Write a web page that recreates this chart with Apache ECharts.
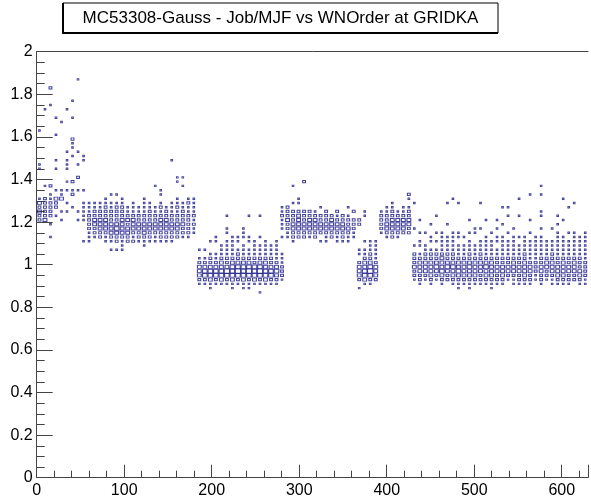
<!DOCTYPE html>
<html><head><meta charset="utf-8">
<script src="https://cdn.jsdelivr.net/npm/echarts@6/dist/echarts.min.js"></script>
<style>html,body{margin:0;padding:0;background:#fff}#c{width:591px;height:500px}</style>
</head><body><div id="c"></div>
<script>
const titleText = 'MC53308-Gauss - Job/MJF vs WNOrder at GRIDKA';
const xBinWidth = 6.3;   // x bin width (WNOrder)
const yBinWidth = 0.02;  // y bin width (Job/MJF)
// lowest y-bin index of each x-bin column
const colStart = [60,60,59,61,60,62,63,60,60,55, 55,56,55,53,53,53,55,55,55,54, 55,55,55,55,55,56,56,56,57,45,
  45,44,45,45,45,44,45,44,44,45, 43,45,45,45,46,56,55,56,56,56, 56,55,55,56,55,55,55,56,44,45,
  45,46,57,56,56,56,57,57,46,45, 46,45,46,45,46,45,44,45,44,45, 45,45,44,45,45,46,45,45,45,45,
  46,45,46,45,45,45,45,46,45,45];
// box contents (0-5) of each column, from colStart upward
const colCounts = ["223231","322222","1022221102","1022301","10100311","10100101","1002102","10100001002","11111001","1112222111",
  "0122332211","223332211","11233322211","10123332221101","10223432222101","1112333322211","223323211","2123332111","122332211","112333221111",
  "1223322211","1123322110","1223332121011","122333221","1223322111","2233221211","122322211","1222221121","112121111","123332101",
  "124432101","113443221001","124432110011","1344332111","12453221111011001","1134443211111","124543221011","113444321110111","112454321101100001","13444221111",
  "1012454321110100001","13443321111","1244322111","12343211111","122211100010111211","11223222","12233222","2233332011","2233222","1233322",
  "2233321","102332201","11233222","223332","11233212","1223322","112322101","1122202","1023332011","13443321101",
  "12454322111","2333211111","122221","12332211","223332211","1233321","2333211","2233221012","1223222010001","1223332101101001",
  "123332211001","123333221011001","1234322101010001","1234333211111","22343221111001","1233432211111","11234332111011","123333211101","11233432211101001","12333321110011",
  "12233322111001","1233432111110001","11233332111101","1223322110110101","1233322111110010001","123322111101000101","11233321111101","12233221110100001","123333221111","1223321111101001",
  "11222111111","122332211111010011","1223321111","11233322111001","12333221111110101","1233332111110001","1223322111101000001","223332111111","123322211111","1122221111111"];
// isolated cells [x-bin, y-bin, content]
const scatterCells = [[0,72,1],[0,73,1],[0,81,1],[1,68,1],[1,86,1],[2,56,1],[2,87,1],[2,91,2],
  [3,72,1],[3,74,1],[3,80,1],[3,84,1],[4,83,1],[5,72,1],[5,73,1],[5,74,1],[5,76,1],[5,86,1],
  [6,75,1],[6,77,1],[6,78,1],[6,79,2],[6,84,1],[6,88,1],[7,73,1],[7,76,1],[7,93,1],
  [8,55,1],[8,74,1],[8,75,1],[21,68,1],[24,74,1],[25,69,1],[25,70,1],[26,68,1],[26,70,1],
  [46,64,1],[46,68,1],[48,69,2],[58,59,2],[58,60,2],[59,61,1],[59,62,1],[68,64,1],
  [74,64,1],[75,65,1],[76,64,1],[80,64,1],[87,65,1],[89,66,1],[91,66,1],[91,68,1],[95,65,1],[97,64,1]];

const cells = [];
colStart.forEach((s, i) => {
  const str = colCounts[i];
  for (let k = 0; k < str.length; k++) {
    const w = +str[k];
    if (w > 0) cells.push([(i + 0.5) * xBinWidth, (s + k + 0.5) * yBinWidth, w]);
  }
});
scatterCells.forEach(c => cells.push([(c[0] + 0.5) * xBinWidth, (c[1] + 0.5) * yBinWidth, c[2]]));

const boxSize = {1:[1.6,1.5],2:[2.8,2.3],3:[3.8,3.0],4:[4.6,3.6],5:[5.4,4.2]};
const font = '"Liberation Sans", Arial, Helvetica, sans-serif';
const axisColor = '#444';

const chart = echarts.init(document.getElementById('c'), null, {renderer: 'canvas'});
chart.setOption({
  animation: false,
  backgroundColor: '#fff',
  grid: {left: 36.7, right: -9.4, top: 51.7, bottom: 22.3, containLabel: false},
  xAxis: [{
    type: 'value', min: 0, max: 630, interval: 100,
    axisLine: {lineStyle: {color: axisColor, width: 1}},
    axisTick: {inside: true, length: 13, lineStyle: {color: axisColor}},
    minorTick: {show: true, splitNumber: 5, length: 7, lineStyle: {color: axisColor}},
    splitLine: {show: false},
    axisLabel: {fontSize: 16, color: '#000', fontFamily: font, margin: 5,
      formatter: v => (v % 100 === 0 ? String(v) : '')}
  }, {
    type: 'value', min: 0, max: 630, position: 'top',
    axisLine: {show: true, onZero: false, lineStyle: {color: axisColor, width: 1}},
    axisTick: {show: false}, axisLabel: {show: false}, splitLine: {show: false}
  }],
  yAxis: {
    type: 'value', min: 0, max: 2, interval: 0.2,
    axisLine: {show: true, lineStyle: {color: axisColor, width: 1}},
    axisTick: {inside: true, length: 16, lineStyle: {color: axisColor}},
    minorTick: {show: true, splitNumber: 4, length: 8, lineStyle: {color: axisColor}},
    splitLine: {show: false},
    axisLabel: {fontSize: 16, color: '#000', fontFamily: font, margin: 4,
      formatter: v => String(+v.toFixed(1))}
  },
  series: [{
    type: 'scatter',
    xAxisIndex: 0,
    symbol: 'rect',
    symbolSize: v => boxSize[v[2]],
    itemStyle: {color: 'rgba(0,0,0,0)', borderColor: '#23238c', borderWidth: 1, opacity: 0.85},
    silent: true,
    data: cells
  }],
  graphic: [
    {type: 'rect', shape: {x: 63, y: 3, width: 435, height: 30}, style: {fill: '#fff', stroke: '#000', lineWidth: 1}},
    {type: 'rect', shape: {x: 62, y: 3, width: 2, height: 31}, style: {fill: '#000'}},
    {type: 'rect', shape: {x: 62, y: 32, width: 436, height: 2}, style: {fill: '#000'}},
    {type: 'text', x: 280.5, y: 18, style: {text: titleText, fontSize: 17, fontFamily: font, fill: '#000', textAlign: 'center', textVerticalAlign: 'middle'}}
  ]
});
</script>
</body></html>
